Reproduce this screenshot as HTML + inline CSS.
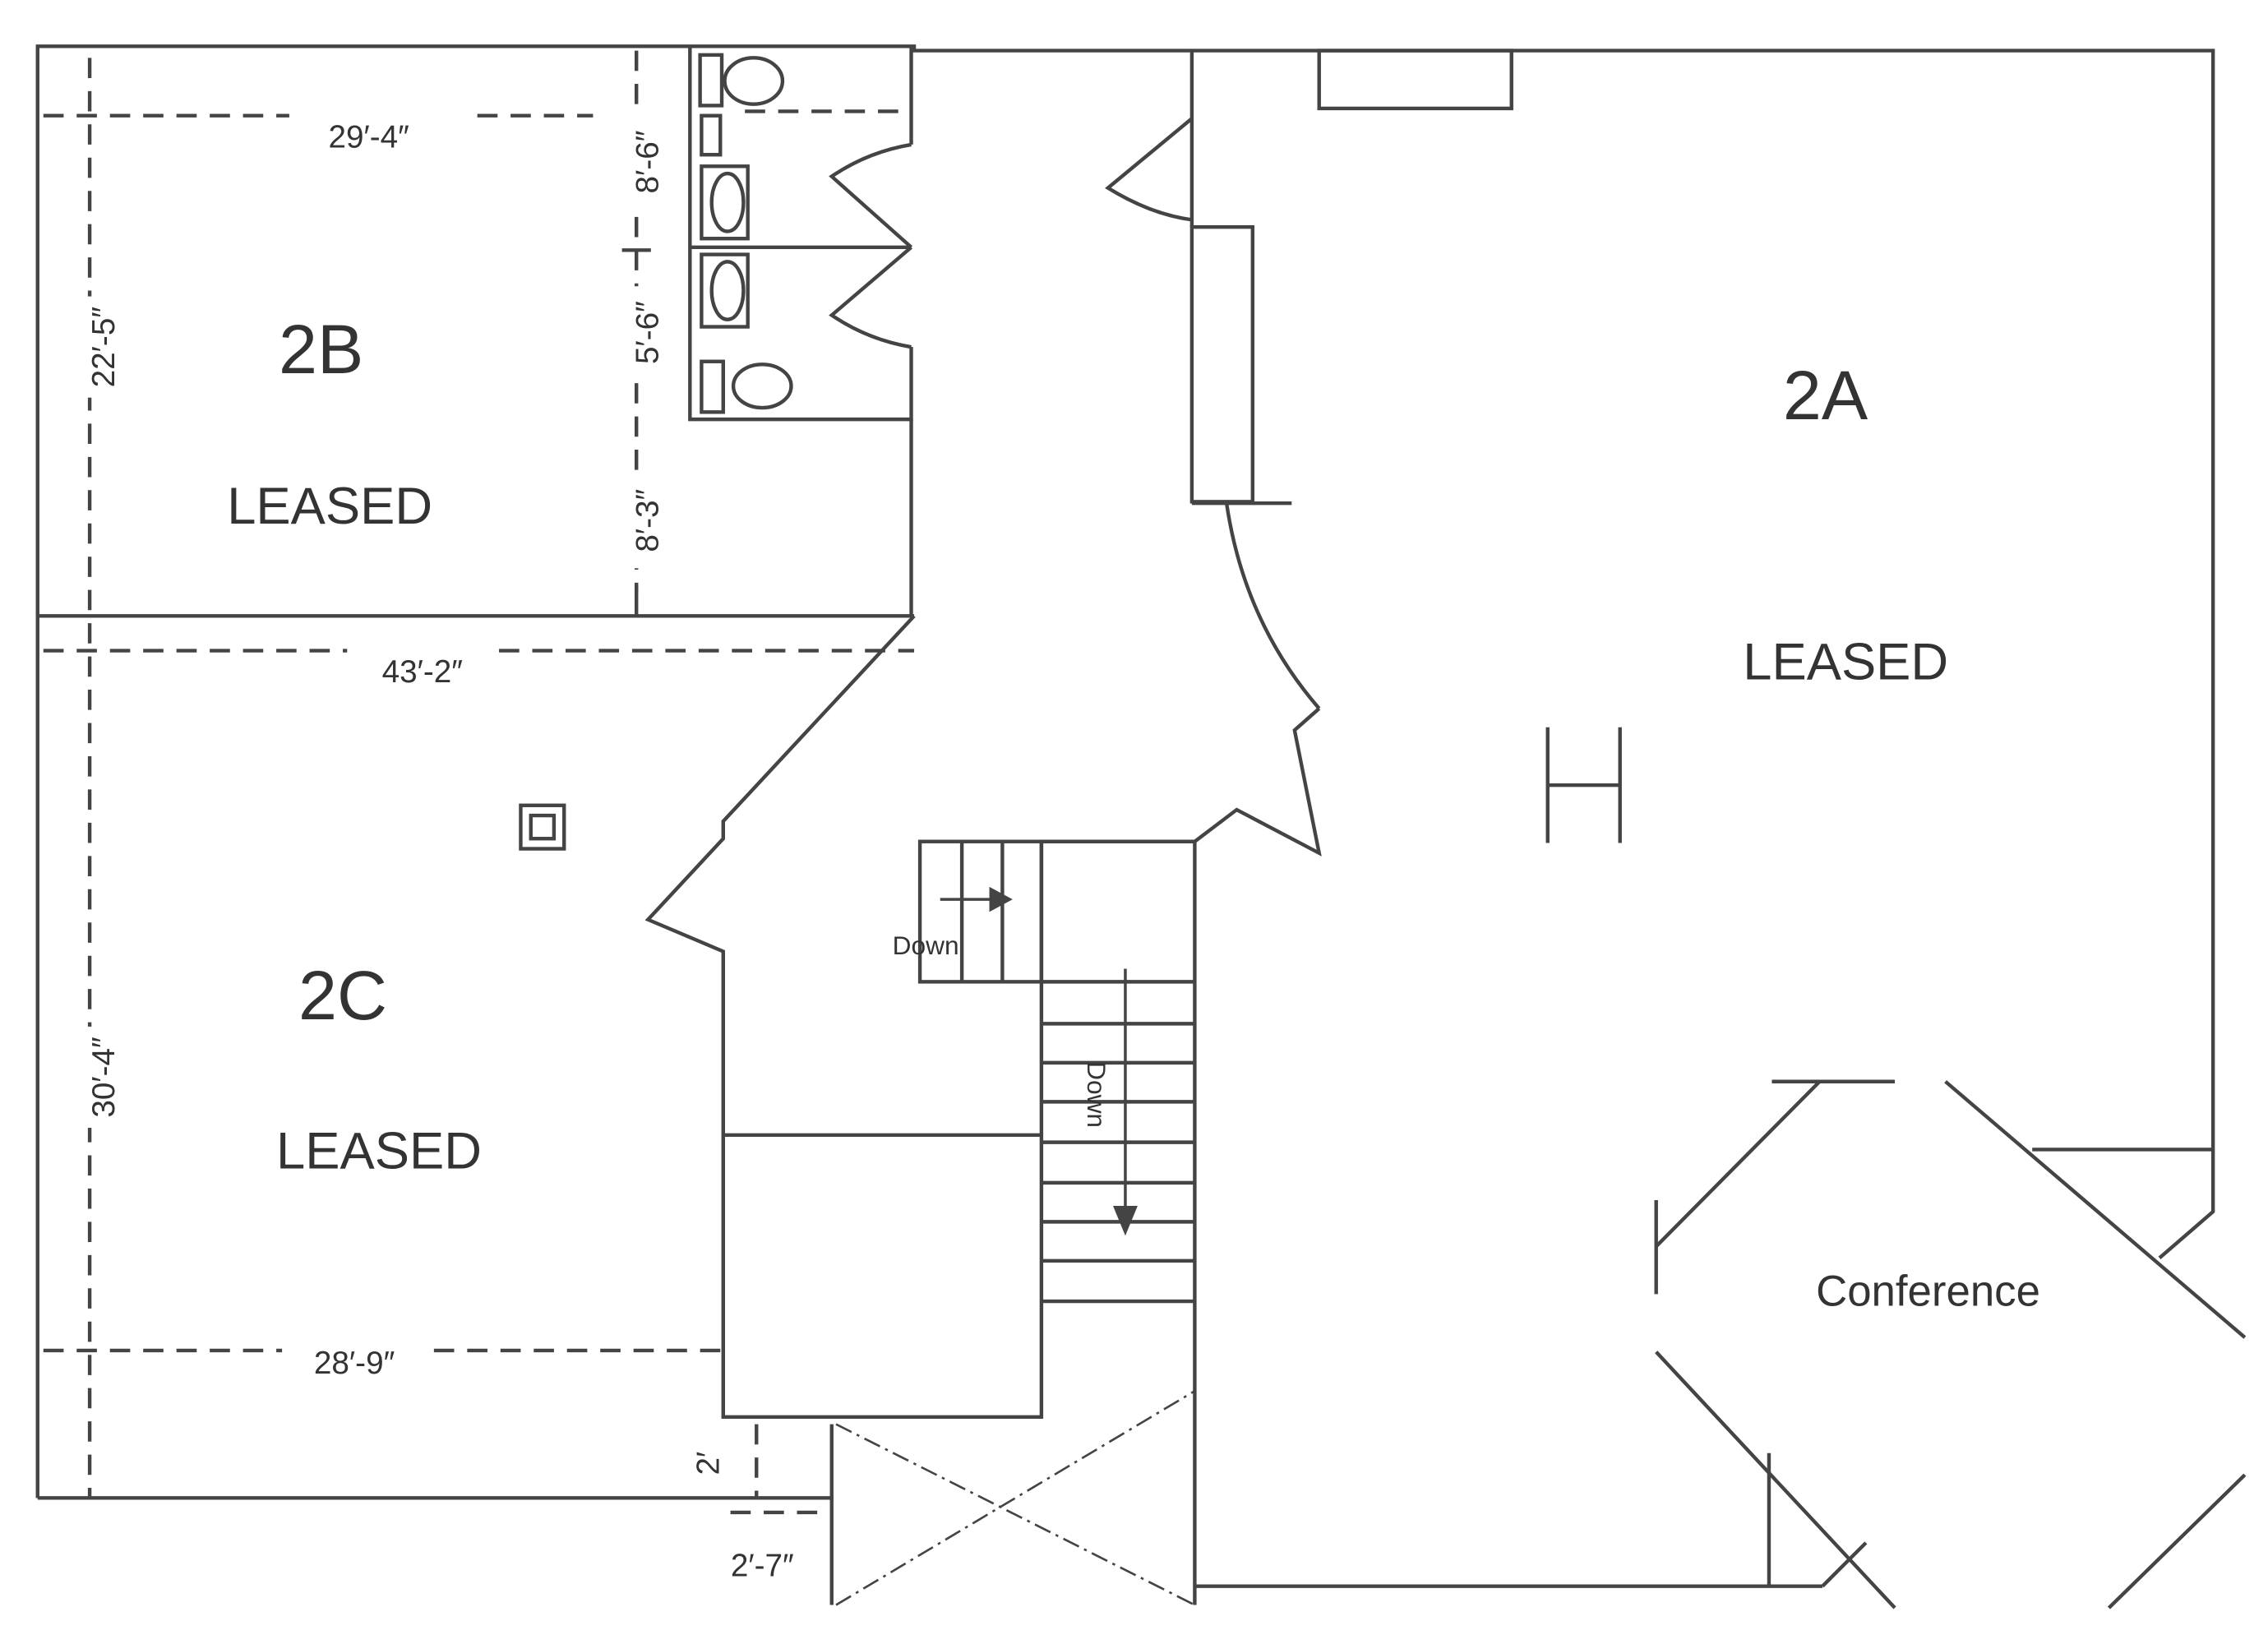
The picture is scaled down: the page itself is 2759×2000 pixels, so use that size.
<!DOCTYPE html>
<html><head><meta charset="utf-8"><style>
html,body{margin:0;padding:0;background:#fff;}
svg{display:block;}
text{font-family:"Liberation Sans",sans-serif;fill:#333;}
</style></head><body>
<svg width="2759" height="2000" viewBox="0 0 1568 1137" preserveAspectRatio="none" xmlns="http://www.w3.org/2000/svg">
<rect width="1568" height="1137" fill="#fff"/>
<g fill="none" stroke="#444" stroke-width="2.5">
<polyline points="26,1036 26,32 632,32 632,35 1530,35 1530,838 1493,870"/>
<line x1="26" y1="1036" x2="575" y2="1036"/>
<line x1="26" y1="426" x2="632" y2="426"/>
<polyline points="477,32 477,290 630,290 630,240"/>
<line x1="630" y1="32" x2="630" y2="100"/>
<line x1="477" y1="171" x2="630" y2="171"/>
<line x1="630" y1="290" x2="630" y2="426"/>
<path d="M630,100 Q600,105 575,122 L630,171"/>
<path d="M630,171 L575,218 Q600,235 630,240"/>
<rect x="484" y="38" width="15" height="35"/>
<ellipse cx="521" cy="56" rx="20" ry="16"/>
<rect x="485" y="80" width="13" height="27"/>
<rect x="485" y="115" width="32" height="50"/>
<ellipse cx="503" cy="140" rx="11" ry="20"/>
<rect x="485" y="176" width="32" height="50"/>
<ellipse cx="503" cy="201" rx="11" ry="20"/>
<rect x="485" y="250" width="15" height="35"/>
<ellipse cx="527" cy="267" rx="20" ry="15"/>
<polyline points="632,426 500,568 500,580 448,636 500,658 500,980 720,980 720,582 826,582 826,1110"/>
<line x1="500" y1="785" x2="720" y2="785"/>
<polyline points="826,582 855,560 912,590 895,505 912,490"/>
<path d="M912,490 Q860,430 848,348"/>
<line x1="824" y1="348" x2="893" y2="348"/>
<rect x="824" y="157" width="42" height="190"/>
<line x1="824" y1="35" x2="824" y2="157"/>
<path d="M824,82 L766,130 Q795,148 824,152"/>
<rect x="912" y="35" width="133" height="40"/>
<rect x="636" y="582" width="84" height="97"/>
<line x1="665" y1="582" x2="665" y2="679"/>
<line x1="693" y1="582" x2="693" y2="679"/>
<line x1="720" y1="679" x2="826" y2="679"/>
<line x1="720" y1="900" x2="826" y2="900"/>
<line x1="720" y1="708" x2="826" y2="708"/>
<line x1="720" y1="735" x2="826" y2="735"/>
<line x1="720" y1="762" x2="826" y2="762"/>
<line x1="720" y1="790" x2="826" y2="790"/>
<line x1="720" y1="818" x2="826" y2="818"/>
<line x1="720" y1="845" x2="826" y2="845"/>
<line x1="720" y1="872" x2="826" y2="872"/>
<line x1="575" y1="985" x2="575" y2="1110"/>
<line x1="826" y1="1097" x2="1260" y2="1097"/>
<line x1="1260" y1="1097" x2="1290" y2="1067"/>
<!-- conference -->
<line x1="1145" y1="935" x2="1310" y2="1112"/>
<line x1="1145" y1="830" x2="1145" y2="895"/>
<line x1="1145" y1="862" x2="1258" y2="748"/>
<line x1="1225" y1="748" x2="1310" y2="748"/>
<line x1="1345" y1="748" x2="1552" y2="925"/>
<line x1="1552" y1="1020" x2="1458" y2="1112"/>
<line x1="1405" y1="795" x2="1530" y2="795"/>
<line x1="1223" y1="1005" x2="1223" y2="1097"/>
<line x1="1070" y1="503" x2="1070" y2="583"/>
<line x1="1120" y1="503" x2="1120" y2="583"/>
<line x1="1070" y1="543" x2="1120" y2="543"/>
<rect x="360" y="557" width="30" height="30"/>
<rect x="367" y="564" width="16" height="16"/>
</g>
<g stroke="#444" stroke-width="2" fill="#444">
<line x1="650" y1="622" x2="685" y2="622"/>
<polygon points="685,615 698,622 685,629"/>
<line x1="778" y1="670" x2="778" y2="835"/>
<polygon points="771,835 778,852 785,835"/>
</g>
<g fill="none" stroke="#444" stroke-width="2.5" stroke-dasharray="14,9">
<line x1="62" y1="40" x2="62" y2="1036"/>
<line x1="440" y1="35" x2="440" y2="410"/>
<line x1="30" y1="80" x2="200" y2="80"/>
<line x1="330" y1="80" x2="410" y2="80"/>
<line x1="515" y1="77" x2="625" y2="77"/>
<line x1="30" y1="450" x2="240" y2="450"/>
<line x1="345" y1="450" x2="632" y2="450"/>
<line x1="30" y1="934" x2="195" y2="934"/>
<line x1="300" y1="934" x2="500" y2="934"/>
<line x1="505" y1="1046" x2="575" y2="1046"/>
<line x1="523" y1="985" x2="523" y2="1036"/>
</g>
<g fill="none" stroke="#444" stroke-width="1.5" stroke-dasharray="12,4,2,4">
<line x1="578" y1="985" x2="826" y2="1110"/>
<line x1="578" y1="1110" x2="826" y2="962"/>
</g>
<line x1="430" y1="173" x2="450" y2="173" stroke="#444" stroke-width="2.5"/>
<line x1="440" y1="405" x2="440" y2="426" stroke="#444" stroke-width="2.5"/>
<!-- label backgrounds -->
<g fill="#fff">
<rect x="55" y="205" width="32" height="70"/>
<rect x="55" y="710" width="32" height="70"/>
<rect x="432" y="80" width="30" height="65"/>
<rect x="432" y="198" width="30" height="65"/>
<rect x="432" y="328" width="30" height="65"/>
</g>
<text x="222" y="258" font-size="48" text-anchor="middle">2B</text>
<text x="228" y="362" font-size="36" text-anchor="middle">LEASED</text>
<text x="237" y="705" font-size="48" text-anchor="middle">2C</text>
<text x="262" y="808" font-size="36" text-anchor="middle">LEASED</text>
<text x="1262" y="290" font-size="48" text-anchor="middle">2A</text>
<text x="1276" y="470" font-size="36" text-anchor="middle">LEASED</text>
<text x="1333" y="903" font-size="30" text-anchor="middle">Conference</text>
<text x="255" y="102" font-size="22" text-anchor="middle">29′-4″</text>
<text x="292" y="472" font-size="22" text-anchor="middle">43′-2″</text>
<text x="245" y="950" font-size="22" text-anchor="middle">28′-9″</text>
<text x="527" y="1090" font-size="22" text-anchor="middle">2′-7″</text>
<text font-size="22" text-anchor="middle" transform="translate(79,240) rotate(-90)">22′-5″</text>
<text font-size="22" text-anchor="middle" transform="translate(79,745) rotate(-90)">30′-4″</text>
<text font-size="22" text-anchor="middle" transform="translate(455,112) rotate(-90)">8′-6″</text>
<text font-size="22" text-anchor="middle" transform="translate(455,230) rotate(-90)">5′-6″</text>
<text font-size="22" text-anchor="middle" transform="translate(455,360) rotate(-90)">8′-3″</text>
<text font-size="22" text-anchor="middle" transform="translate(497,1012) rotate(-90)">2′</text>
<text x="640" y="660" font-size="18" text-anchor="middle">Down</text>
<text font-size="18" text-anchor="middle" transform="translate(752,757) rotate(90)">Down</text>
</svg>
</body></html>
